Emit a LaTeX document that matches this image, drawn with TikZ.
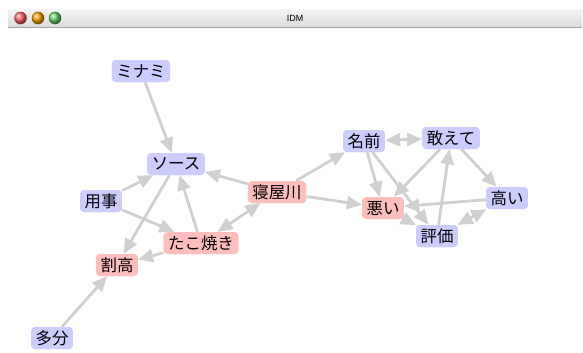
\documentclass[tikz,border=0pt]{standalone}
\usepackage{fontspec}
\newfontfamily\jp{Noto Sans CJK JP}
\setsansfont{Liberation Sans}
\usetikzlibrary{arrows.meta}
\definecolor{nblue}{RGB}{204,204,255}
\definecolor{npink}{RGB}{255,190,190}
\definecolor{edgegray}{RGB}{208,208,208}
\begin{document}
\begin{tikzpicture}[x=1bp,y=-1bp,
  base/.style={rounded corners=4bp, inner xsep=4.5bp, inner ysep=0bp, minimum height=22bp, font=\jp\fontsize{16.5}{16.5}\selectfont, text=black},
  bnode/.style={base, fill=nblue},
  pnode/.style={base, fill=npink},
  edge/.style={draw=edgegray, line width=2.8bp, -{Triangle[length=15bp,width=13bp]}},
  bedge/.style={draw=edgegray, line width=2.8bp, {Triangle[length=15bp,width=13bp]}-{Triangle[length=15bp,width=13bp]}}
]
\useasboundingbox (0,0) rectangle (583,352);
\fill[white] (0,0) rectangle (583,352);
% title bar
\shade[top color=gray!8, bottom color=gray!28] (8,9) rectangle (582,27);
\draw[gray!70, line width=0.8bp] (8,27) -- (582,27);
\node[font=\sffamily\fontsize{9}{9}\selectfont] (title) at (295,18) {IDM};
\shade[ball color=red!60] (20.5,18) circle (6.3bp);
\shade[ball color=orange!70!yellow] (38,18) circle (6.3bp);
\shade[ball color=green!70!black!60] (55,18) circle (6.3bp);
% nodes
\node[bnode] (minami) at (141,71) {ミナミ};
\node[bnode] (source) at (176,164) {ソース};
\node[bnode] (yoji) at (101,201) {用事};
\node[pnode] (neya) at (277,192) {寝屋川};
\node[pnode] (tako) at (201,243) {たこ焼き};
\node[pnode] (wari) at (117,265) {割高};
\node[bnode] (tabun) at (52,338) {多分};
\node[bnode] (namae) at (364,141) {名前};
\node[bnode] (aete) at (451,138) {敢えて};
\node[bnode] (takai) at (507,198) {高い};
\node[pnode] (warui) at (383,208) {悪い};
\node[bnode] (hyoka) at (437,236) {評価};
% edges
\path[edge] (minami) -- (source);
\path[edge] (yoji) -- (source);
\path[edge] (neya) -- (source);
\path[edge] (source) -- (wari);
\path[edge] (tako) -- (source);
\path[edge] (yoji) -- (tako);
\path[edge] (tako) -- (wari);
\path[bedge] (tako) -- (neya);
\path[edge] (tabun) -- (wari);
\path[edge] (neya) -- (namae);
\path[edge] (neya) -- (warui);
\path[bedge] (namae) -- (aete);
\path[edge] (namae) -- (warui);
\path[edge] (namae) -- (hyoka);
\path[edge] (aete) -- (warui);
\path[edge] (aete) -- (takai);
\path[edge] (hyoka) -- (aete);
\path[edge] (takai) -- (warui);
\path[bedge] (takai) -- (hyoka);
\path[edge] (warui) -- (hyoka);
% redraw nodes on top
\node[bnode] at (minami) {ミナミ};
\node[bnode] at (source) {ソース};
\node[bnode] at (yoji) {用事};
\node[pnode] at (neya) {寝屋川};
\node[pnode] at (tako) {たこ焼き};
\node[pnode] at (wari) {割高};
\node[bnode] at (tabun) {多分};
\node[bnode] at (namae) {名前};
\node[bnode] at (aete) {敢えて};
\node[bnode] at (takai) {高い};
\node[pnode] at (warui) {悪い};
\node[bnode] at (hyoka) {評価};
\end{tikzpicture}
\end{document}
